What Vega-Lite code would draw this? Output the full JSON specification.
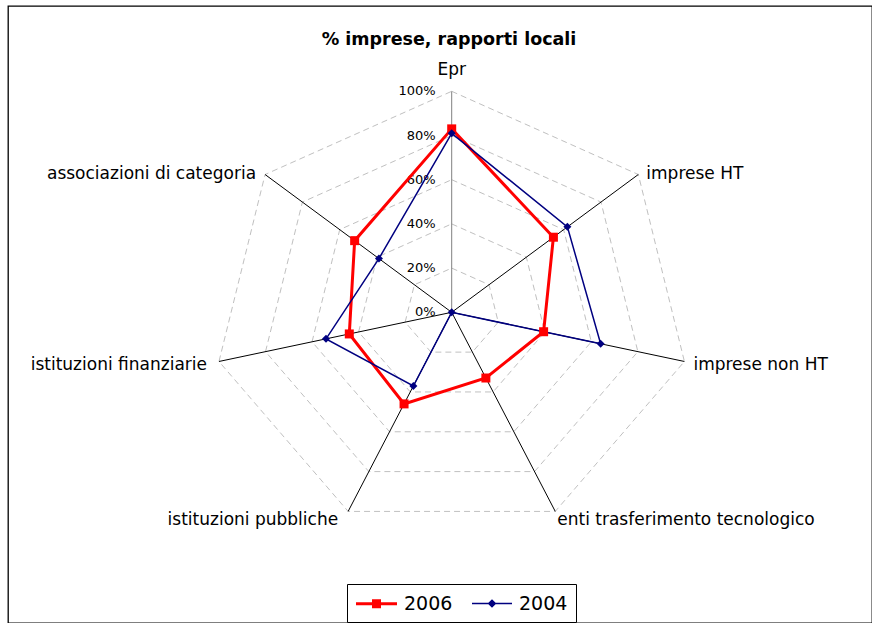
{
  "$schema": "https://vega.github.io/schema/vega-lite/v6.json",
  "width": 864,
  "height": 617,
  "autosize": {"type": "none"},
  "padding": {"left": 8, "top": 6, "right": 0, "bottom": 0},
  "background": "#ffffff",
  "config": {
    "view": {"stroke": "#000000", "strokeWidth": 1.3},
    "font": "DejaVu Sans"
  },
  "title": {
    "text": "% imprese, rapporti locali",
    "font": "DejaVu Sans",
    "fontSize": 17.5,
    "fontWeight": "bold",
    "color": "#000000",
    "anchor": "middle",
    "frame": "group",
    "baseline": "middle",
    "offset": -51,
    "dx": 9
  },
  "datasets": {
    "assi": [
      {"voce": "Epr"},
      {"voce": "imprese HT"},
      {"voce": "imprese non HT"},
      {"voce": "enti trasferimento tecnologico"},
      {"voce": "istituzioni pubbliche"},
      {"voce": "istituzioni finanziarie"},
      {"voce": "associazioni di categoria"}
    ],
    "livelli": [
      {"livello": 0},
      {"livello": 0.2},
      {"livello": 0.4},
      {"livello": 0.6},
      {"livello": 0.8},
      {"livello": 1}
    ],
    "dati": [
      {"serie": "2006", "voce": "Epr", "valore": 0.83},
      {"serie": "2006", "voce": "imprese HT", "valore": 0.545},
      {"serie": "2006", "voce": "imprese non HT", "valore": 0.395},
      {"serie": "2006", "voce": "enti trasferimento tecnologico", "valore": 0.33},
      {"serie": "2006", "voce": "istituzioni pubbliche", "valore": 0.46},
      {"serie": "2006", "voce": "istituzioni finanziarie", "valore": 0.44},
      {"serie": "2006", "voce": "associazioni di categoria", "valore": 0.52},
      {"serie": "2004", "voce": "Epr", "valore": 0.81},
      {"serie": "2004", "voce": "imprese HT", "valore": 0.62},
      {"serie": "2004", "voce": "imprese non HT", "valore": 0.64},
      {"serie": "2004", "voce": "enti trasferimento tecnologico", "valore": 0},
      {"serie": "2004", "voce": "istituzioni pubbliche", "valore": 0.37},
      {"serie": "2004", "voce": "istituzioni finanziarie", "valore": 0.54},
      {"serie": "2004", "voce": "associazioni di categoria", "valore": 0.39}
    ]
  },
  "layer": [
    {
      "data": {"name": "assi"},
      "transform": [
        {"window": [{"op": "row_number", "as": "idx"}]},
        {"calculate": "2*PI*(datum.idx-1)/7", "as": "angolo"},
        {"calculate": "sin(datum.angolo)", "as": "ax"},
        {"calculate": "cos(datum.angolo)", "as": "ay"}
      ],
      "layer": [
        {
          "transform": [
            {"calculate": "[0.2, 0.4, 0.6, 0.8, 1]", "as": "livello"},
            {"flatten": ["livello"]},
            {"calculate": "datum.livello*datum.ax", "as": "gx"},
            {"calculate": "datum.livello*datum.ay", "as": "gy"}
          ],
          "mark": {"type": "line", "interpolate": "linear-closed", "stroke": "#c0c0c0", "strokeWidth": 1, "strokeDash": [6, 4]},
          "encoding": {
            "x": {"field": "gx", "type": "quantitative", "scale": {"domain": [-1.8588, 1.7608], "nice": false, "zero": false}, "axis": null},
            "y": {"field": "gy", "type": "quantitative", "scale": {"domain": [-1.4059, 1.386], "nice": false, "zero": false}, "axis": null},
            "detail": {"field": "livello", "type": "nominal"},
            "order": {"field": "idx", "type": "quantitative"}
          }
        },
        {
          "mark": {"type": "rule", "strokeWidth": 1},
          "encoding": {
            "x": {"field": "ax", "type": "quantitative"},
            "y": {"field": "ay", "type": "quantitative"},
            "x2": {"datum": 0},
            "y2": {"datum": 0},
            "stroke": {"condition": {"test": "datum.idx === 1", "value": "#808080"}, "value": "#000000"}
          }
        },
        {
          "transform": [{"filter": "datum.idx === 1"}],
          "mark": {"type": "text", "align": "center", "baseline": "middle", "dy": -21, "fontSize": 17, "color": "#000000"},
          "encoding": {"x": {"field": "ax", "type": "quantitative"}, "y": {"field": "ay", "type": "quantitative"}, "text": {"field": "voce"}}
        },
        {
          "transform": [{"filter": "datum.idx === 2"}],
          "mark": {"type": "text", "align": "left", "baseline": "middle", "dx": 8, "dy": -1, "fontSize": 17, "color": "#000000"},
          "encoding": {"x": {"field": "ax", "type": "quantitative"}, "y": {"field": "ay", "type": "quantitative"}, "text": {"field": "voce"}}
        },
        {
          "transform": [{"filter": "datum.idx === 3"}],
          "mark": {"type": "text", "align": "left", "baseline": "middle", "dx": 9, "dy": 4, "fontSize": 17, "color": "#000000"},
          "encoding": {"x": {"field": "ax", "type": "quantitative"}, "y": {"field": "ay", "type": "quantitative"}, "text": {"field": "voce"}}
        },
        {
          "transform": [{"filter": "datum.idx === 4"}],
          "mark": {"type": "text", "align": "left", "baseline": "middle", "dx": 2, "dy": 9, "fontSize": 17, "color": "#000000"},
          "encoding": {"x": {"field": "ax", "type": "quantitative"}, "y": {"field": "ay", "type": "quantitative"}, "text": {"field": "voce"}}
        },
        {
          "transform": [{"filter": "datum.idx === 5"}],
          "mark": {"type": "text", "align": "right", "baseline": "middle", "dx": -10, "dy": 9, "fontSize": 17, "color": "#000000"},
          "encoding": {"x": {"field": "ax", "type": "quantitative"}, "y": {"field": "ay", "type": "quantitative"}, "text": {"field": "voce"}}
        },
        {
          "transform": [{"filter": "datum.idx === 6"}],
          "mark": {"type": "text", "align": "right", "baseline": "middle", "dx": -12, "dy": 4, "fontSize": 17, "color": "#000000"},
          "encoding": {"x": {"field": "ax", "type": "quantitative"}, "y": {"field": "ay", "type": "quantitative"}, "text": {"field": "voce"}}
        },
        {
          "transform": [{"filter": "datum.idx === 7"}],
          "mark": {"type": "text", "align": "right", "baseline": "middle", "dx": -9, "dy": -1, "fontSize": 17, "color": "#000000"},
          "encoding": {"x": {"field": "ax", "type": "quantitative"}, "y": {"field": "ay", "type": "quantitative"}, "text": {"field": "voce"}}
        }
      ]
    },
    {
      "data": {"name": "livelli"},
      "mark": {"type": "text", "align": "right", "baseline": "middle", "dx": -16, "fontSize": 13, "color": "#000000"},
      "encoding": {
        "x": {"datum": 0, "type": "quantitative"},
        "y": {"field": "livello", "type": "quantitative"},
        "text": {"field": "livello", "type": "quantitative", "format": ".0%"}
      }
    },
    {
      "data": {"name": "dati"},
      "transform": [
        {"window": [{"op": "row_number", "as": "idx"}], "groupby": ["serie"]},
        {"calculate": "2*PI*(datum.idx-1)/7", "as": "angolo"},
        {"calculate": "datum.valore*sin(datum.angolo)", "as": "px"},
        {"calculate": "datum.valore*cos(datum.angolo)", "as": "py"}
      ],
      "encoding": {
        "x": {"field": "px", "type": "quantitative"},
        "y": {"field": "py", "type": "quantitative"},
        "color": {
          "field": "serie",
          "type": "nominal",
          "scale": {"domain": ["2006", "2004"], "range": ["#ff0000", "#000080"]},
          "legend": {
            "orient": "none",
            "legendX": 339,
            "legendY": 578,
            "direction": "horizontal",
            "title": null,
            "strokeColor": "#000000",
            "fillColor": "#ffffff",
            "padding": 8,
            "labelFont": "DejaVu Sans",
            "labelFontSize": 19,
            "labelColor": "#000000",
            "symbolSize": 400,
            "symbolOffset": 10,
            "labelOffset": 16,
            "columnPadding": 16,
            "encode": {
              "symbols": {
                "update": {
                  "shape": {"signal": "datum.value === '2006' ? 'M-2.05,0H2.05M-0.3,-0.3H0.3V0.3H-0.3Z' : 'M-2,0H2M0,-0.33L0.33,0L0,0.33L-0.33,0Z'"},
                  "fill": {"signal": "datum.value === '2006' ? '#ff0000' : '#000080'"},
                  "stroke": {"signal": "datum.value === '2006' ? '#ff0000' : '#000080'"},
                  "strokeWidth": {"signal": "datum.value === '2006' ? 3 : 1.5"},
                  "size": {"value": 400},
                  "opacity": {"value": 1}
                }
              }
            }
          }
        }
      },
      "layer": [
        {
          "mark": {"type": "line", "interpolate": "linear-closed"},
          "encoding": {
            "order": {"field": "idx", "type": "quantitative"},
            "strokeWidth": {"field": "serie", "type": "ordinal", "scale": {"domain": ["2006", "2004"], "range": [3, 1.5]}, "legend": null}
          }
        },
        {
          "transform": [{"filter": "datum.serie === '2006'"}],
          "mark": {"type": "point", "filled": true, "opacity": 1, "shape": "square", "size": 81}
        },
        {
          "transform": [{"filter": "datum.serie === '2004'"}],
          "mark": {"type": "point", "filled": true, "opacity": 1, "shape": "diamond", "size": 64}
        }
      ]
    }
  ]
}
